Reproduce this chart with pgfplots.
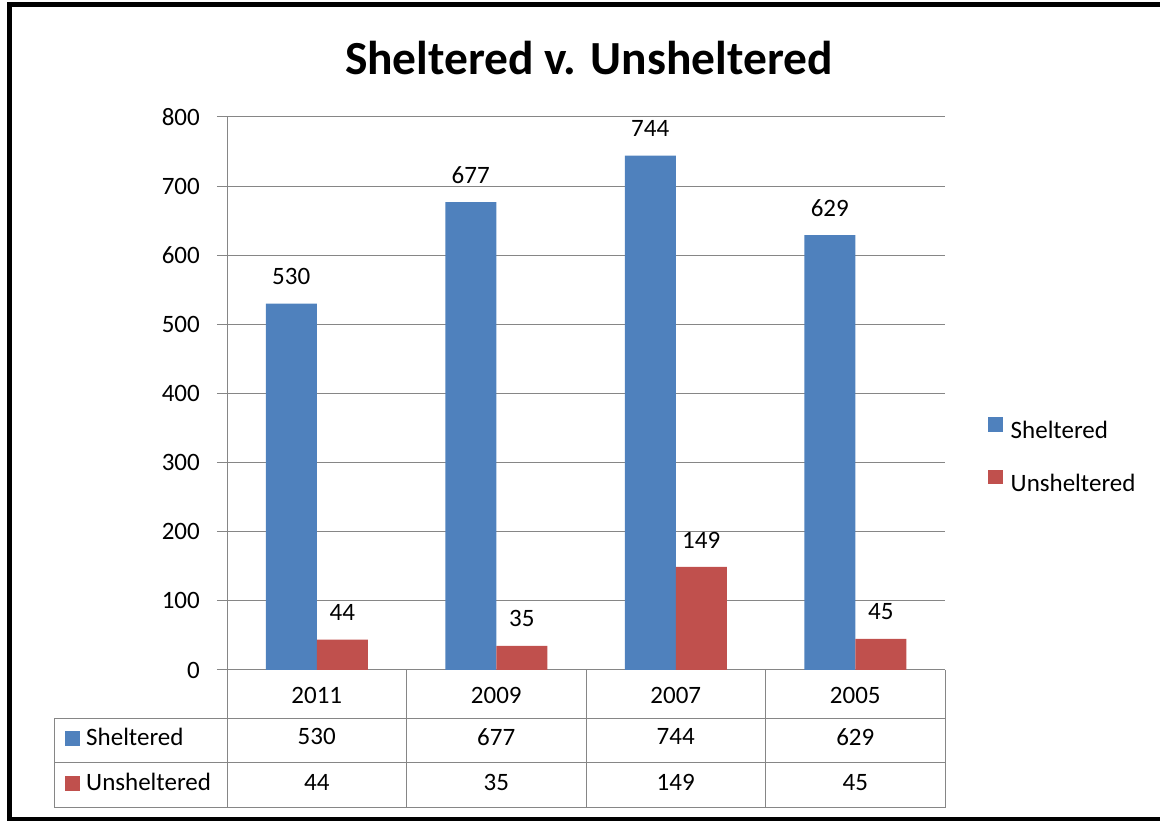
\documentclass[border=0pt]{standalone}
\usepackage{fontspec}
\setmainfont{Carlito}
\usepackage{pgfplots}
\pgfplotsset{compat=1.18}
\usepackage{pgfplotstable}
\definecolor{shel}{HTML}{4F81BD}
\definecolor{unshel}{HTML}{C0504D}
\definecolor{gridc}{HTML}{868686}

\pgfplotstableread{
x year shel unshel
0 2011 530 44
1 2009 677 35
2 2007 744 149
3 2005 629 45
}\data

\newcommand\fs{\fontsize{25pt}{30pt}\selectfont}

\begin{document}
\begin{tikzpicture}[x=1pt,y=1pt]
\useasboundingbox (0,0) rectangle (1160,821);
% outer frame (right edge runs off the page)
\draw[line width=5pt] (1175,816) -- (9.5,816) -- (9.5,1) -- (1175,1);
\node[font=\fontsize{47.5pt}{52pt}\selectfont\bfseries] at (589,763) {Sheltered v. Unsheltered};

\begin{axis}[
    at={(227pt,151pt)}, anchor=south west,
    width=718pt, height=553pt, scale only axis,
    xmin=-0.5, xmax=3.5, ymin=0, ymax=800,
    ytick={0,100,...,800},
    ymajorgrids, grid style={gridc, line width=1pt},
    axis x line*=bottom, axis y line*=left,
    axis line style={gridc, line width=1pt, -},
    tick align=outside, major tick length=10pt,
    ytick style={gridc, line width=1pt}, xtick style={draw=none},
    xtick={0,1,2,3}, xticklabels from table={\data}{year},
    tick label style={font=\fs},
    /pgf/number format/assume math mode=true,
    yticklabel style={anchor=east, inner sep=0pt, xshift=-17pt},
    xticklabel style={anchor=center, inner sep=0pt, yshift=-15pt},
    clip=false,
    legend cell align=left,
    legend style={draw=none, fill=none, inner sep=0pt, row sep=31pt, column sep=8pt,
        font=\fs, nodes={inner sep=0pt, text height=18pt, text depth=0pt},
        at={(rel axis cs:1,0.39)}, anchor=west, xshift=43pt},
    legend image code/.code={\fill[#1] (0pt,-2pt) rectangle (14.5pt,12.5pt);},
]
\addplot[ybar, bar width=51pt, bar shift=-25.5pt, fill=shel, draw=none,
    nodes near coords, every node near coord/.append style={font=\fs, anchor=center, xshift=-25.5pt, yshift=27pt}]
    table[x=x, y=shel]{\data};
\addlegendentry{Sheltered}
\addplot[ybar, bar width=51pt, bar shift=25.5pt, fill=unshel, draw=none,
    nodes near coords, every node near coord/.append style={font=\fs, anchor=center, xshift=25.5pt, yshift=27pt}]
    table[x=x, y=unshel]{\data};
\addlegendentry{Unsheltered}
% data table values
\addplot[draw=none, mark=none, forget plot, nodes near coords, point meta=explicit,
    every node near coord/.append style={font=\fs, anchor=center, inner sep=0pt}]
    table[x=x, y expr=-96.9, meta=shel]{\data};
\addplot[draw=none, mark=none, forget plot, nodes near coords, point meta=explicit,
    every node near coord/.append style={font=\fs, anchor=center, inner sep=0pt}]
    table[x=x, y expr=-162.7, meta=unshel]{\data};
\end{axis}

% data table grid
\begin{scope}[gridc, line width=1pt]
\foreach \xx in {227,406.5,586,765.5,945} \draw (\xx,151) -- (\xx,13);
\draw (54,102.3) -- (945,102.3);
\draw (54,58) -- (945,58);
\draw (54,13) -- (945,13);
\draw (54,102.3) -- (54,13);
\end{scope}
\fill[shel] (65,75.3) rectangle (79.5,90);
\node[anchor=base west, font=\fs, inner sep=0pt] at (86,75) {Sheltered};
\fill[unshel] (65,30.3) rectangle (79.5,45);
\node[anchor=base west, font=\fs, inner sep=0pt] at (86,30) {Unsheltered};
\end{tikzpicture}
\end{document}
